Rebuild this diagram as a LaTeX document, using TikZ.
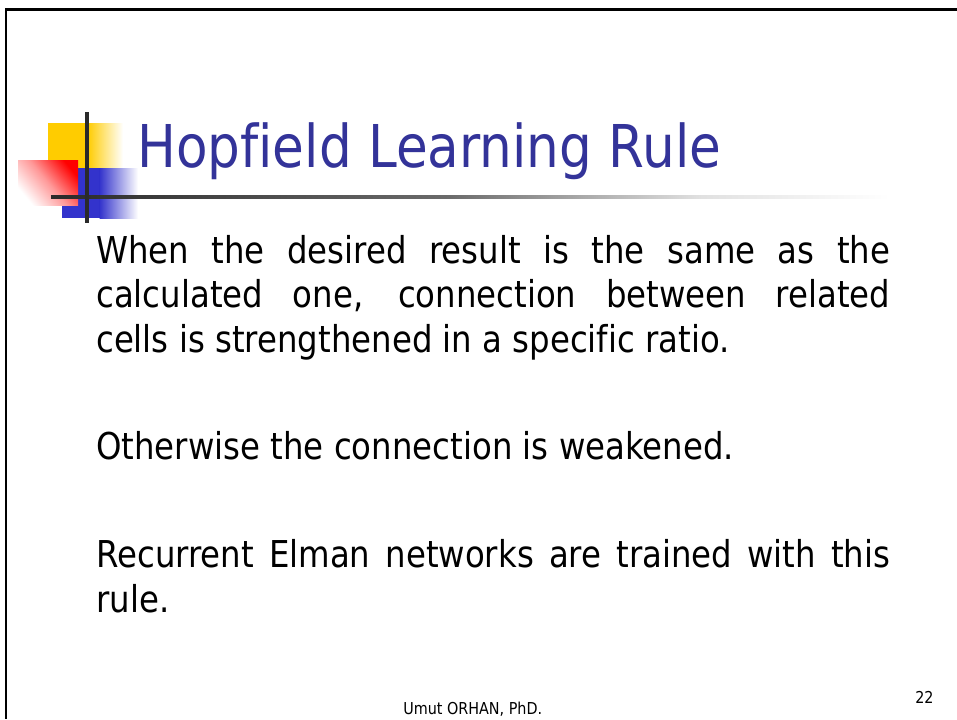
\documentclass[tikz,border=0pt]{standalone}
\usepackage{fontspec}
\newfontfamily\slidefont{DejaVu Sans}[FakeStretch=0.875, Ligatures={NoCommon}]
\definecolor{titleblue}{HTML}{333399}
\definecolor{logoyellow}{HTML}{FFCC00}
\definecolor{logoblue}{HTML}{3333CC}
\definecolor{logored}{HTML}{FF0000}
\definecolor{rulegray}{HTML}{2A2A2A}
\tikzset{
  bodytext/.style={anchor=base west, inner sep=0pt, font=\slidefont\fontsize{27.75pt}{33pt}\selectfont},
  titletext/.style={anchor=base west, inner sep=0pt, text=titleblue, font=\slidefont\fontsize{44.25pt}{52pt}\selectfont},
  foottext/.style={anchor=base west, inner sep=0pt, font=\slidefont\fontsize{12.3pt}{14pt}\selectfont},
}
% a justified line of the body text, 794px wide
\newcommand{\fullline}[1]{\makebox[595.5pt][s]{#1}}
\begin{document}
\begin{tikzpicture}[x=0.75pt,y=-0.75pt]
\useasboundingbox (0,0) rectangle (957,719);
\fill[white] (0,0) rectangle (957,719);

% slide frame (top and left edges)
\draw[line width=2.25pt] (5,9.5) -- (957,9.5);
\draw[line width=1.9pt] (6,8) -- (6,719);

% logo: yellow square fading to the right
\fill[logoyellow] (48,123) rectangle (88,168);
\shade[left color=logoyellow, right color=white] (87.5,123) rectangle (123,168);
% logo: blue square fading to the right
\fill[logoblue] (62,168) rectangle (100,218);
\shade[left color=logoblue, right color=white] (99.5,168) rectangle (138,218);
% logo: red square fading towards the lower left
\shade[top color=logored, bottom color=white, middle color=logored!40, shading angle=-50] (18,160) rectangle (78,205);

% title rule fading out to the right
\shade[left color=rulegray, right color=black!58] (51,195.3) rectangle (450,198.7);
\shade[left color=black!58, right color=black!12] (449.5,195.3) rectangle (700,198.7);
\shade[left color=black!12, right color=white] (699.5,195.3) rectangle (890,198.7);
% vertical bar of the logo
\fill[rulegray] (85.3,112) rectangle (88.7,223);

% title
\node[titletext] (title) at (137,167) {Hopfield Learning Rule};

% body text
\node[bodytext] (l1) at (96,263) {\fullline{When the desired result is the same as the}};
\node[bodytext] (l2) at (96,307) {\fullline{calculated one, connection between related}};
\node[bodytext] (l3) at (96,352) {cells is strengthened in a specific ratio.};
\node[bodytext] (l4) at (96,459) {Otherwise the connection is weakened.};
\node[bodytext] (l5) at (96,567) {\fullline{Recurrent Elman networks are trained with this}};
\node[bodytext] (l6) at (96,612) {rule.};

% footer
\node[foottext] (author) at (403,714) {Umut ORHAN, PhD.};
\node[foottext] (page) at (915,703) {22};
\end{tikzpicture}
\end{document}
